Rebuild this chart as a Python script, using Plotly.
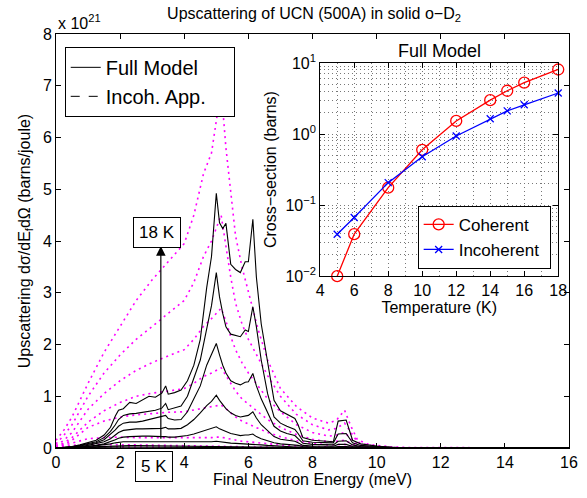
import plotly.graph_objects as go

FONT = "Liberation Sans, Arial, sans-serif"

# ---------------- main plot data (values in units of 1e21 barns/joule) ----------------
energy = [0, 0.25, 0.5, 0.75, 1.0, 1.25, 1.5, 1.7, 1.85, 1.95, 2.1, 2.3, 2.5, 2.7, 2.9, 3.1, 3.3, 3.42, 3.5,
          3.7, 3.9, 4.1, 4.3, 4.5, 4.7, 4.85, 5.0, 5.1, 5.2, 5.3, 5.45, 5.6, 5.75, 5.9, 6.0, 6.14, 6.25, 6.4,
          6.6, 6.8, 7.0, 7.2, 7.45, 7.55, 7.7, 8.0, 8.3, 8.65, 8.8, 9.05, 9.25, 9.5, 10.0, 10.5, 11.0, 16.0]

full_18K = [0, 0.01, 0.03, 0.06, 0.10, 0.15, 0.25, 0.40, 0.62, 0.73, 0.76, 0.88, 0.86, 0.93, 1.00, 0.98, 1.06, 1.20, 1.04,
            1.07, 1.12, 1.30, 1.60, 2.10, 3.10, 3.70, 4.92, 4.35, 4.24, 4.34, 3.55, 3.45, 3.39, 3.60, 3.60, 4.42, 3.30, 2.40,
            1.70, 0.92, 0.72, 0.65, 0.57, 0.45, 0.20, 0.15, 0.13, 0.12, 0.52, 0.54, 0.15, 0.08, 0.04, 0.01, 0, 0]
full_16K = [0, 0.01, 0.025, 0.05, 0.08, 0.12, 0.20, 0.32, 0.45, 0.55, 0.63, 0.66, 0.67, 0.69, 0.71, 0.73, 0.77, 0.86, 0.74,
            0.78, 0.81, 1.00, 1.35, 1.70, 2.30, 2.75, 3.39, 2.92, 2.60, 2.34, 2.20, 2.17, 2.15, 2.28, 2.25, 2.73, 2.34, 1.70,
            1.05, 0.60, 0.48, 0.42, 0.36, 0.28, 0.14, 0.11, 0.10, 0.10, 0.27, 0.28, 0.10, 0.05, 0.03, 0.01, 0, 0]
full_14K = [0, 0.008, 0.02, 0.04, 0.07, 0.10, 0.16, 0.26, 0.35, 0.42, 0.48, 0.50, 0.50, 0.52, 0.55, 0.57, 0.60, 0.63, 0.57,
            0.54, 0.55, 0.70, 0.95, 1.20, 1.60, 1.80, 2.02, 1.80, 1.60, 1.45, 1.30, 1.25, 1.22, 1.27, 1.28, 1.44, 1.20, 0.95,
            0.70, 0.42, 0.33, 0.28, 0.24, 0.18, 0.09, 0.07, 0.06, 0.06, 0.13, 0.14, 0.06, 0.03, 0.02, 0.005, 0, 0]
full_12K = [0, 0.006, 0.015, 0.03, 0.05, 0.08, 0.12, 0.18, 0.25, 0.30, 0.34, 0.36, 0.37, 0.37, 0.37, 0.37, 0.38, 0.40, 0.37,
            0.37, 0.38, 0.45, 0.55, 0.68, 0.82, 0.90, 1.02, 0.92, 0.85, 0.76, 0.68, 0.63, 0.60, 0.62, 0.63, 0.70, 0.58, 0.45,
            0.33, 0.22, 0.17, 0.15, 0.13, 0.10, 0.05, 0.04, 0.035, 0.035, 0.07, 0.07, 0.03, 0.02, 0.01, 0, 0, 0]
full_10K = [0, 0.004, 0.01, 0.02, 0.035, 0.05, 0.08, 0.12, 0.16, 0.19, 0.21, 0.22, 0.23, 0.23, 0.23, 0.22, 0.22, 0.22, 0.21,
            0.21, 0.22, 0.24, 0.27, 0.31, 0.35, 0.37, 0.41, 0.37, 0.34, 0.31, 0.28, 0.26, 0.24, 0.25, 0.25, 0.27, 0.22, 0.18,
            0.14, 0.10, 0.08, 0.07, 0.06, 0.05, 0.03, 0.02, 0.02, 0.02, 0.03, 0.03, 0.015, 0.01, 0.005, 0, 0, 0]
full_8K = [0, 0.004, 0.01, 0.02, 0.03, 0.045, 0.06, 0.08, 0.10, 0.11, 0.12, 0.12, 0.12, 0.12, 0.12, 0.115, 0.115, 0.115, 0.11,
           0.11, 0.11, 0.11, 0.11, 0.11, 0.115, 0.12, 0.13, 0.12, 0.11, 0.10, 0.095, 0.09, 0.085, 0.085, 0.08, 0.08, 0.07, 0.06,
           0.05, 0.04, 0.03, 0.025, 0.02, 0.018, 0.012, 0.01, 0.01, 0.01, 0.012, 0.012, 0.006, 0.004, 0.002, 0, 0, 0]
full_6K = [0, 0.005, 0.012, 0.02, 0.03, 0.035, 0.04, 0.045, 0.05, 0.05, 0.048, 0.046, 0.045, 0.044, 0.043, 0.042, 0.041, 0.041, 0.04,
           0.04, 0.039, 0.038, 0.037, 0.036, 0.036, 0.037, 0.04, 0.037, 0.034, 0.032, 0.03, 0.028, 0.026, 0.025, 0.024, 0.024, 0.022, 0.019,
           0.016, 0.013, 0.01, 0.008, 0.007, 0.006, 0.004, 0.003, 0.003, 0.003, 0.003, 0.003, 0.002, 0.001, 0, 0, 0, 0]
full_5K = [0, 0.004, 0.008, 0.012, 0.015, 0.016, 0.017, 0.017, 0.017, 0.017, 0.016, 0.016, 0.015, 0.015, 0.014, 0.014, 0.013, 0.013, 0.013,
           0.012, 0.012, 0.012, 0.011, 0.011, 0.011, 0.011, 0.012, 0.011, 0.010, 0.010, 0.009, 0.009, 0.008, 0.008, 0.008, 0.008, 0.007, 0.006,
           0.005, 0.004, 0.003, 0.003, 0.002, 0.002, 0.001, 0.001, 0.001, 0.001, 0.001, 0.001, 0, 0, 0, 0, 0, 0]

energy_inc = [0, 0.25, 0.5, 1.0, 1.5, 2.0, 2.5, 3.0, 3.5, 4.0, 4.3, 4.6, 4.85, 5.0, 5.15, 5.3, 5.45, 5.6, 5.8, 6.0,
              6.3, 6.6, 7.0, 7.5, 8.0, 8.5, 8.75, 9.0, 9.2, 9.4, 9.7, 10.0, 10.5, 11.0, 16.0]
inc_18K = [0.15, 0.35, 0.60, 1.25, 1.85, 2.35, 2.85, 3.25, 3.60, 3.95, 4.50, 5.30, 5.70, 6.30, 6.95, 5.80, 4.90, 4.10, 3.50, 3.00,
           2.30, 1.70, 1.15, 0.80, 0.58, 0.48, 0.54, 0.73, 0.42, 0.16, 0.08, 0.05, 0.02, 0.01, 0]
inc_16K = [0.08, 0.25, 0.45, 1.00, 1.45, 1.80, 2.10, 2.35, 2.60, 2.85, 3.20, 3.70, 4.00, 4.25, 4.50, 3.90, 3.30, 2.80, 2.40, 2.10,
           1.75, 1.40, 1.00, 0.65, 0.45, 0.35, 0.38, 0.48, 0.30, 0.12, 0.06, 0.03, 0.01, 0, 0]
inc_14K = [0.05, 0.15, 0.30, 0.75, 1.05, 1.30, 1.50, 1.65, 1.78, 1.90, 2.10, 2.35, 2.50, 2.60, 2.70, 2.45, 2.15, 1.90, 1.65, 1.45,
           1.20, 0.95, 0.70, 0.45, 0.30, 0.23, 0.25, 0.30, 0.18, 0.07, 0.03, 0.02, 0, 0, 0]
inc_12K = [0.03, 0.10, 0.20, 0.50, 0.72, 0.88, 1.00, 1.06, 1.10, 1.15, 1.25, 1.38, 1.45, 1.50, 1.55, 1.40, 1.25, 1.10, 0.95, 0.85,
           0.70, 0.55, 0.40, 0.26, 0.17, 0.12, 0.13, 0.15, 0.09, 0.04, 0.02, 0.01, 0, 0, 0]
inc_10K = [0.02, 0.07, 0.15, 0.40, 0.52, 0.60, 0.64, 0.67, 0.69, 0.70, 0.73, 0.77, 0.80, 0.82, 0.83, 0.76, 0.68, 0.60, 0.52, 0.46,
           0.38, 0.30, 0.22, 0.14, 0.09, 0.06, 0.06, 0.07, 0.04, 0.02, 0.01, 0, 0, 0, 0]
inc_8K = [0.01, 0.05, 0.10, 0.18, 0.20, 0.21, 0.20, 0.20, 0.20, 0.19, 0.19, 0.20, 0.20, 0.21, 0.21, 0.19, 0.17, 0.15, 0.13, 0.12,
          0.10, 0.08, 0.06, 0.04, 0.025, 0.015, 0.015, 0.015, 0.01, 0.005, 0, 0, 0, 0, 0]
inc_6K = [0.005, 0.03, 0.05, 0.07, 0.07, 0.065, 0.06, 0.055, 0.05, 0.045, 0.045, 0.045, 0.045, 0.045, 0.045, 0.04, 0.036, 0.032, 0.028, 0.025,
          0.02, 0.016, 0.01, 0.006, 0.003, 0.002, 0.002, 0.002, 0.001, 0, 0, 0, 0, 0, 0]
inc_5K = [0.003, 0.015, 0.02, 0.025, 0.022, 0.02, 0.018, 0.016, 0.015, 0.014, 0.013, 0.013, 0.013, 0.013, 0.013, 0.012, 0.011, 0.01, 0.009, 0.008,
          0.006, 0.005, 0.003, 0.002, 0.001, 0, 0, 0, 0, 0, 0, 0, 0, 0, 0]

full_curves = [full_18K, full_16K, full_14K, full_12K, full_10K, full_8K, full_6K, full_5K]
inc_curves = [inc_18K, inc_16K, inc_14K, inc_12K, inc_10K, inc_8K, inc_6K, inc_5K]

x_ticks = [0, 2, 4, 6, 8, 10, 12, 14, 16]
y_ticks = [0, 1, 2, 3, 4, 5, 6, 7, 8]

# ---------------- inset data ----------------
temperature = [5, 6, 8, 10, 12, 14, 15, 16, 18]
coherent = [0.010, 0.039, 0.176, 0.60, 1.53, 3.0, 4.07, 5.3, 8.1]
incoherent = [0.039, 0.067, 0.207, 0.48, 0.94, 1.64, 2.12, 2.58, 3.78]
inset_x_ticks = [4, 6, 8, 10, 12, 14, 16, 18]
inset_y_ticks = [0.01, 0.1, 1, 10]
inset_y_labels = ["10<sup>\u22122</sup>", "10<sup>\u22121</sup>", "10<sup>0</sup>", "10<sup>1</sup>"]

fig = go.Figure()

for c in inc_curves:
    fig.add_trace(go.Scatter(x=energy_inc, y=c, mode="lines", showlegend=False,
                             line=dict(color="#ff00ff", width=1.6, dash="2px,4px")))
for c in full_curves:
    fig.add_trace(go.Scatter(x=energy, y=c, mode="lines", showlegend=False,
                             line=dict(color="black", width=1.1)))

# legend entries for main plot
fig.add_trace(go.Scatter(x=[None], y=[None], mode="lines", name="Full Model\u00a0\u00a0\u00a0\u00a0",
                         line=dict(color="black", width=1), legend="legend"))
fig.add_trace(go.Scatter(x=[None], y=[None], mode="lines", name="Incoh. App.\u00a0\u00a0\u00a0\u00a0",
                         line=dict(color="black", width=1, dash="dash"), legend="legend"))

# inset traces
fig.add_trace(go.Scatter(x=temperature, y=coherent, mode="lines+markers", name="Coherent",
                         xaxis="x2", yaxis="y2", cliponaxis=False, legend="legend2",
                         line=dict(color="red", width=1.3),
                         marker=dict(symbol="circle-open", size=11, color="red", line=dict(width=1.3))))
fig.add_trace(go.Scatter(x=temperature, y=incoherent, mode="lines+markers", name="Incoherent\u00a0",
                         xaxis="x2", yaxis="y2", cliponaxis=False, legend="legend2",
                         line=dict(color="blue", width=1.3),
                         marker=dict(symbol="x-thin-open", size=7, color="blue", line=dict(width=1.3, color="blue"))))

axis_common = dict(showline=True, linecolor="black", linewidth=1, mirror="ticks", ticks="inside",
                   ticklen=5, tickcolor="black", showgrid=False, zeroline=False,
                   tickfont=dict(family=FONT, size=16, color="black"))
grid_style = dict(showgrid=True, gridcolor="#777", griddash="1px,3px", gridwidth=1)

fig.update_layout(
    width=587, height=498,
    margin=dict(l=56, r=9, t=34, b=50),
    paper_bgcolor="white", plot_bgcolor="white",
    font=dict(family=FONT, color="black"),
    title=dict(text="Upscattering of UCN (500A) in solid o\u2212D<sub>2</sub>", x=0.535, xanchor="center",
               y=0.985, yanchor="top", font=dict(size=16, family=FONT, color="black")),
    xaxis=dict(range=[0, 16], tickvals=x_ticks, domain=[0, 1],
               title=dict(text="Final Neutron Energy (meV)", font=dict(size=16), standoff=2), **axis_common),
    yaxis=dict(range=[0, 8], tickvals=y_ticks, domain=[0, 1],
               title=dict(text="Upscattering d\u03c3/dE<sub>f</sub>d\u03a9 (barns/joule)", font=dict(size=16), standoff=8),
               **axis_common),
    xaxis2=dict(range=[4, 18], tickvals=inset_x_ticks, domain=[0.515, 0.979], anchor="y2",
                title=dict(text="Temperature (K)", font=dict(size=16), standoff=2),
                **{**axis_common, **grid_style},
                minor=dict(dtick=1, **grid_style)),
    yaxis2=dict(type="log", range=[-2, 1], tickvals=inset_y_ticks, ticktext=inset_y_labels,
                domain=[0.415, 0.930], anchor="x2",
                title=dict(text="Cross\u2212section (barns)", font=dict(size=16), standoff=4),
                **{**axis_common, **grid_style},
                minor=dict(dtick="D1", **grid_style)),
    legend=dict(x=0.017, y=0.969, xanchor="left", yanchor="top", bordercolor="black", borderwidth=1,
                bgcolor="white", font=dict(size=20, family=FONT, color="black"), tracegroupgap=0),
    legend2=dict(x=0.705, y=0.585, xanchor="left", yanchor="top", bordercolor="black", borderwidth=1,
                 bgcolor="white", font=dict(size=17, family=FONT, color="black")),
)

fig.add_annotation(xref="paper", yref="paper", x=0.0, y=1.0, xanchor="left", yanchor="bottom",
                   text="x 10<sup>21</sup>", showarrow=False, font=dict(size=16, family=FONT, color="black"))
fig.add_annotation(xref="x2 domain", yref="y2 domain", x=0.5, y=1.0, xanchor="center", yanchor="bottom",
                   text="Full Model", showarrow=False, font=dict(size=18, family=FONT, color="black"))
# arrow from 5 K to 18 K
fig.add_annotation(x=3.27, y=3.9, ax=3.27, ay=0.15, xref="x", yref="y", axref="x", ayref="y",
                   text="", showarrow=True, arrowhead=2, arrowsize=1.6, arrowwidth=1.2, arrowcolor="black")
fig.add_annotation(x=3.15, y=4.17, xref="x", yref="y", text="18 K", showarrow=False,
                   bordercolor="black", borderwidth=1, borderpad=5, bgcolor="white",
                   font=dict(size=17, family=FONT, color="black"))
fig.add_annotation(x=3.06, y=-0.082, xref="x", yref="paper", text="5 K", showarrow=False,
                   bordercolor="black", borderwidth=1, borderpad=5, bgcolor="white",
                   font=dict(size=17, family=FONT, color="black"))

fig.write_html("out.html")
